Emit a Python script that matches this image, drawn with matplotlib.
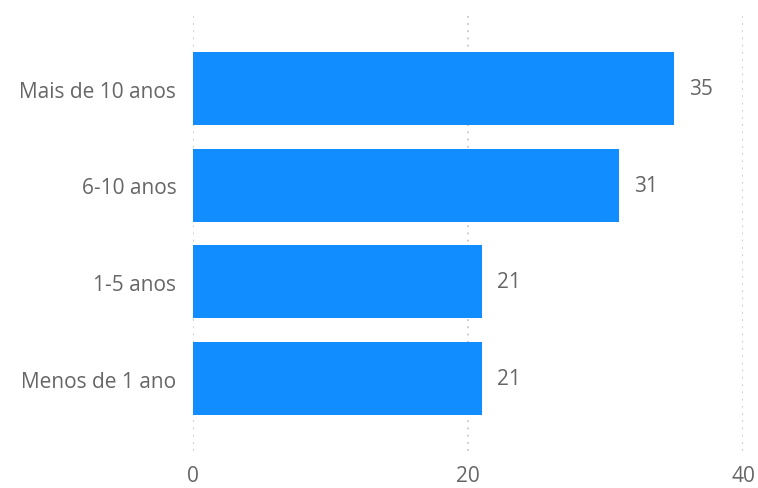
import matplotlib
matplotlib.use('Agg')
import matplotlib.pyplot as plt

# data, bottom to top
categories = ['Menos de 1 ano', '1-5 anos', '6-10 anos', 'Mais de 10 anos']
values = [21, 21, 31, 35]
x_ticks = [0, 20, 40]

BAR_COLOR = '#118DFF'
TEXT_COLOR = '#666666'
GRID_COLOR = '#C8C8C8'
FS = 15

plt.rcParams['font.family'] = ['Open Sans', 'DejaVu Sans']

W, H = 758, 489
fig = plt.figure(figsize=(W / 100, H / 100), dpi=100)
ax = fig.add_axes([193 / W, 1 - 452 / H, (743 - 193) / W, (452 - 17) / H])

pos = list(range(len(categories)))
ax.barh(pos, values, height=0.755, color=BAR_COLOR, zorder=2)
for p, v in zip(pos, values):
    ax.text(v + 1.1, p, f'{v}', va='center', ha='left', fontsize=FS, color=TEXT_COLOR)

ax.set_xlim(0, 40)
ax.set_ylim(-0.75, 3.75)
ax.set_yticks(pos)
ax.set_yticklabels(categories)
ax.set_xticks(x_ticks)
ax.tick_params(axis='both', length=0, labelsize=FS, labelcolor=TEXT_COLOR)
ax.tick_params(axis='y', pad=12)
ax.tick_params(axis='x', pad=10)

ax.set_axisbelow(True)
ax.grid(axis='x', color=GRID_COLOR, linestyle=(0, (1, 3)), linewidth=1.3)
ax.grid(axis='y', visible=False)
for s in ax.spines.values():
    s.set_visible(False)

fig.savefig('out.png', dpi=100)
